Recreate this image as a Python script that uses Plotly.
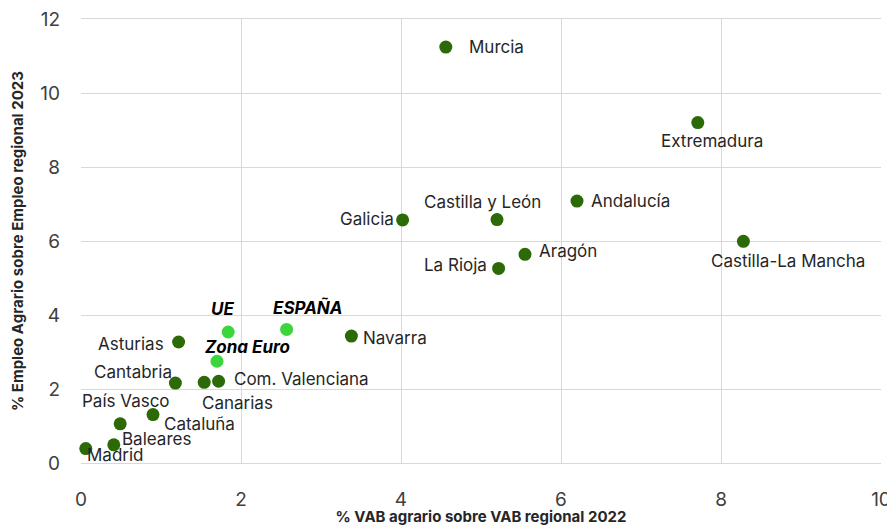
import plotly.graph_objects as go

regions = ["Murcia", "Extremadura", "Andalucía", "Galicia", "Castilla y León", "Aragón",
           "La Rioja", "Castilla-La Mancha", "Navarra", "Asturias", "Cantabria", "Canarias",
           "Com. Valenciana", "Cataluña", "País Vasco", "Baleares", "Madrid"]
vab_regions = [4.56, 7.71, 6.20, 4.02, 5.20, 5.55, 5.22, 8.28, 3.38, 1.22, 1.18, 1.54,
               1.72, 0.90, 0.49, 0.41, 0.06]
emp_regions = [11.24, 9.20, 7.08, 6.57, 6.58, 5.64, 5.26, 5.99, 3.43, 3.27, 2.16, 2.18,
               2.21, 1.31, 1.06, 0.49, 0.39]

aggregates = ["UE", "ESPAÑA", "Zona Euro"]
vab_aggr = [1.84, 2.57, 1.70]
emp_aggr = [3.54, 3.61, 2.75]

x_ticks = [0, 2, 4, 6, 8, 10]
y_ticks = [0, 2, 4, 6, 8, 10, 12]

DARK = "#2b6a07"
LIGHT = "#3bd63b"
FONT = "Inter"
GRID = "#d9d9d9"

# label placement: (xanchor, xshift, yshift)
reg_pos = {
    "Murcia": ("left", 21, 0),
    "Extremadura": ("center", 14, -18),
    "Andalucía": ("left", 12, 0),
    "Galicia": ("right", -7, 1),
    "Castilla y León": ("center", -15, 18),
    "Aragón": ("left", 12, 3),
    "La Rioja": ("right", -10, 3),
    "Castilla-La Mancha": ("center", 45, -20),
    "Navarra": ("left", 10, -2),
    "Asturias": ("right", -13, -2),
    "Cantabria": ("right", -1, 11),
    "Canarias": ("center", 33, -21),
    "Com. Valenciana": ("left", 13, 2),
    "Cataluña": ("left", 9, -9),
    "País Vasco": ("center", 6, 23),
    "Baleares": ("left", 6, 6),
    "Madrid": ("left", -1, -6),
}
agg_pos = {
    "UE": ("center", -6, 23),
    "ESPAÑA": ("center", 21, 22),
    "Zona Euro": ("center", 30, 14),
}

fig = go.Figure()
fig.add_trace(go.Scatter(x=vab_regions, y=emp_regions, mode="markers",
                         marker=dict(color=DARK, size=13), hoverinfo="text",
                         text=regions, showlegend=False, cliponaxis=False))
fig.add_trace(go.Scatter(x=vab_aggr, y=emp_aggr, mode="markers",
                         marker=dict(color=LIGHT, size=13), hoverinfo="text",
                         text=aggregates, showlegend=False, cliponaxis=False))

annotations = []
for name, xv, yv in zip(regions, vab_regions, emp_regions):
    xa, xs, ys = reg_pos[name]
    annotations.append(dict(x=xv, y=yv, text=name, showarrow=False, xanchor=xa,
                            yanchor="middle", xshift=xs, yshift=ys,
                            font=dict(family=FONT, size=17, color="#262626")))
for name, xv, yv in zip(aggregates, vab_aggr, emp_aggr):
    xa, xs, ys = agg_pos[name]
    annotations.append(dict(x=xv, y=yv, text="<b><i>" + name + "</i></b>", showarrow=False,
                            xanchor=xa, yanchor="middle", xshift=xs, yshift=ys,
                            font=dict(family=FONT, size=17, color="#000000")))

axis_common = dict(showgrid=True, gridcolor=GRID, gridwidth=1, zeroline=False,
                   ticks="", automargin=False, ticklabeloverflow="allow",
                   tickfont=dict(family=FONT, size=19, color="#404040"))

# the page body adds an 8px margin, so the figure is sized to fit the window
fig.update_layout(
    width=887, height=518,
    margin=dict(l=73, r=14, t=11, b=63),
    paper_bgcolor="white", plot_bgcolor="white",
    font=dict(family=FONT),
    annotations=annotations,
    xaxis=dict(range=[0, 10], tickvals=x_ticks, ticktext=[str(v) for v in x_ticks],
               ticklabelstandoff=19, showline=True, mirror=True, linecolor=GRID, linewidth=1,
               title=dict(text="<b>% VAB agrario sobre VAB regional 2022</b>", standoff=14,
                          font=dict(family=FONT, size=15, color="#262626")),
               **axis_common),
    yaxis=dict(range=[0, 12], tickvals=y_ticks, ticktext=[str(v) for v in y_ticks],
               ticklabelstandoff=20, showline=False,
               title=dict(text="<b>% Empleo Agrario sobre Empleo regional 2023</b>", standoff=14,
                          font=dict(family=FONT, size=15, color="#262626")),
               **axis_common),
)

fig.write_html("out.html")
